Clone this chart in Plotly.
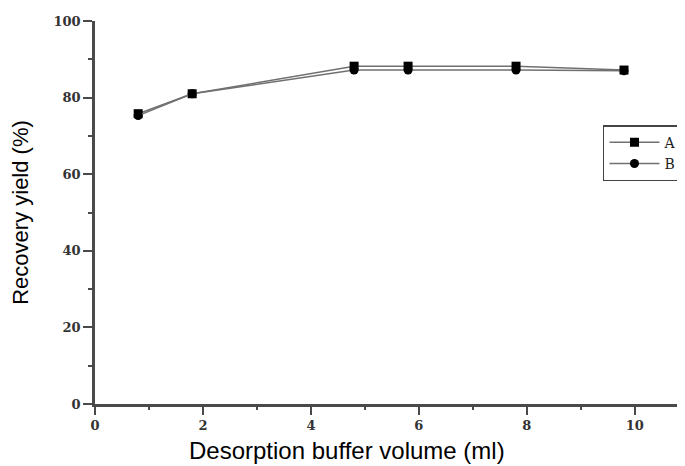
import plotly.graph_objects as go

volume = [0.8, 1.8, 4.8, 5.8, 7.8, 9.8]
yield_a = [75.8, 81.0, 88.2, 88.2, 88.2, 87.2]
yield_b = [75.3, 81.0, 87.2, 87.2, 87.2, 87.0]
x_ticks = [0, 2, 4, 6, 8, 10]
y_ticks = [0, 20, 40, 60, 80, 100]
x_minor = [1, 3, 5, 7, 9]
y_minor = [10, 30, 50, 70, 90]

axis_col = "#4a4a4a"

fig = go.Figure()
fig.add_trace(go.Scatter(x=volume, y=yield_a, name="A", mode="lines+markers",
                         line=dict(color="#707070", width=1.5),
                         marker=dict(symbol="square", size=9, color="black")))
fig.add_trace(go.Scatter(x=volume, y=yield_b, name="B", mode="lines+markers",
                         line=dict(color="#707070", width=1.5),
                         marker=dict(symbol="circle", size=9, color="black")))

tick_font = dict(family="DejaVu Serif", size=13, color="#333333", weight="bold")
fig.update_layout(
    width=685, height=466,
    margin=dict(l=87, r=8, t=13, b=70, autoexpand=False),
    paper_bgcolor="white", plot_bgcolor="white",
    showlegend=True,
    legend=dict(x=0.861, y=0.728, xanchor="left", yanchor="top",
                bordercolor="#444444", borderwidth=1.5, bgcolor="white",
                font=dict(family="DejaVu Serif", size=14, color="#222222"),
                tracegroupgap=0, itemwidth=50),
    xaxis=dict(range=[0, 10.93], tickvals=x_ticks, ticktext=[str(v) for v in x_ticks],
               automargin=False,
               showgrid=False, zeroline=False, showline=True, linecolor=axis_col, linewidth=2.5,
               ticks="outside", ticklen=8, tickwidth=2, tickcolor=axis_col, ticklabelstandoff=0,
               minor=dict(tickvals=x_minor, ticks="outside", ticklen=3, tickwidth=2, tickcolor=axis_col),
               tickfont=tick_font),
    yaxis=dict(range=[0, 100], tickvals=y_ticks, ticktext=[str(v) for v in y_ticks],
               automargin=False,
               showgrid=False, zeroline=False, showline=True, linecolor=axis_col, linewidth=2.5,
               ticks="outside", ticklen=9, tickwidth=2, tickcolor=axis_col,
               minor=dict(tickvals=y_minor, ticks="outside", ticklen=4, tickwidth=2, tickcolor=axis_col),
               tickfont=tick_font,
               title=dict(text="Recovery yield (%)",
                          font=dict(family="Liberation Sans", size=22, color="black"), standoff=23)),
    annotations=[dict(text="Desorption buffer volume (ml)", xref="paper", yref="paper",
                      x=0.427, y=-0.121, xanchor="center", yanchor="middle", showarrow=False,
                      font=dict(family="Liberation Sans", size=24, color="black"))],
)
fig.write_html("out.html")
